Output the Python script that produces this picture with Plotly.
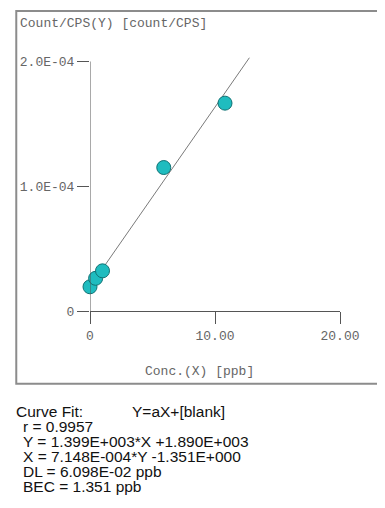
import plotly.graph_objects as go

# ---- data ----
conc_ppb = [0.0, 0.45, 1.0, 5.9, 10.8]
ratio_cps = [1.94e-5, 2.62e-5, 3.22e-5, 1.15e-4, 1.666e-4]
fit_x = [0.0, 12.75]
fit_y = [1.95e-5, 2.03e-4]
x_tickvals = [0, 10, 20]
x_ticktext = ["0", "10.00", "20.00"]
y_tickvals = [0, 1e-4, 2e-4]
y_ticktext = ["0", "1.0E-04", "2.0E-04"]
fit_lines = [
    "Curve Fit:",
    "r = 0.9957",
    "Y = 1.399E+003*X +1.890E+003",
    "X = 7.148E-004*Y -1.351E+000",
    "DL = 6.098E-02 ppb",
    "BEC = 1.351 ppb",
]
fit_model = "Y=aX+[blank]"

# page body has an 8px default margin: work in reference pixels, shift by OFF
OFF = 8
W, H = 385 - OFF, 508 - OFF
L, R = 86.7 - OFF, 340.0 - OFF     # px of x=0 and x=20
Y0 = 311.0 - OFF                   # px of y=0
PX_PER_1E4 = 125.0
YMAX = 2.06e-4
T = Y0 - YMAX / 1e-4 * PX_PER_1E4
B = H - Y0
pw, ph = R - L, Y0 - T


def px(x):
    return (x - OFF - L) / pw


def py(y):
    return (Y0 - (y - OFF)) / ph


MONO = "Liberation Mono, Courier New, monospace"
GREY = "#666666"
SANS = "Liberation Sans, Arial, sans-serif"

fig = go.Figure()
fig.add_trace(go.Scatter(x=fit_x, y=fit_y, mode="lines",
                         line=dict(color="#7a7a7a", width=1), hoverinfo="skip"))
fig.add_trace(go.Scatter(x=conc_ppb, y=ratio_cps, mode="markers", cliponaxis=False,
                         marker=dict(size=14, color="#1fbcbf",
                                     line=dict(color="#117274", width=1))))

fig.update_layout(
    width=W, height=H, showlegend=False,
    margin=dict(l=L, r=W - R, t=T, b=B, pad=0),
    paper_bgcolor="white", plot_bgcolor="white",
    xaxis=dict(range=[0, 20], tickvals=x_tickvals, ticktext=x_ticktext,
               showgrid=False, zeroline=False, showline=True, linecolor="#555",
               linewidth=1, ticks="outside", ticklen=12, tickcolor="#555",
               tickfont=dict(family=MONO, size=13, color=GREY)),
    yaxis=dict(range=[0, YMAX], tickvals=y_tickvals, ticktext=y_ticktext,
               showgrid=False, zeroline=False, showline=False,
               ticks="outside", ticklen=12, tickcolor="#555",
               tickfont=dict(family=MONO, size=13, color=GREY)),
    shapes=[
        dict(type="line", xref="x", yref="y", x0=0, x1=0, y0=0, y1=y_tickvals[-1],
             line=dict(color="#555", width=1)),
        dict(type="rect", xref="paper", yref="paper", x0=px(12), x1=px(383),
             y0=py(384), y1=py(10.5), line=dict(color="#8c8c8c", width=2),
             layer="below"),
    ],
)

ann = []
ann.append(dict(text="Count/CPS(Y) [count/CPS]", x=px(14), y=py(22.5), xref="paper",
                yref="paper", xanchor="left", yanchor="middle", showarrow=False,
                font=dict(family=MONO, size=13, color=GREY)))
ann.append(dict(text="Conc.(X) [ppb]", x=px(198), y=py(372), xref="paper",
                yref="paper", xanchor="center", yanchor="middle", showarrow=False,
                font=dict(family=MONO, size=13, color=GREY)))
ys = [412, 427, 442, 457, 472, 487]
for i, t in enumerate(fit_lines):
    ann.append(dict(text=t, x=px(11 if i == 0 else 18), y=py(ys[i]), xref="paper",
                    yref="paper", xanchor="left", yanchor="middle", showarrow=False,
                    borderpad=0,
                    font=dict(family=SANS, size=15.5, color="#111")))
ann.append(dict(text=fit_model, x=px(128), y=py(ys[0]), xref="paper", yref="paper",
                xanchor="left", yanchor="middle", showarrow=False, borderpad=0,
                font=dict(family=SANS, size=15.5, color="#111")))
fig.update_layout(annotations=ann)

fig.write_html("out.html")
